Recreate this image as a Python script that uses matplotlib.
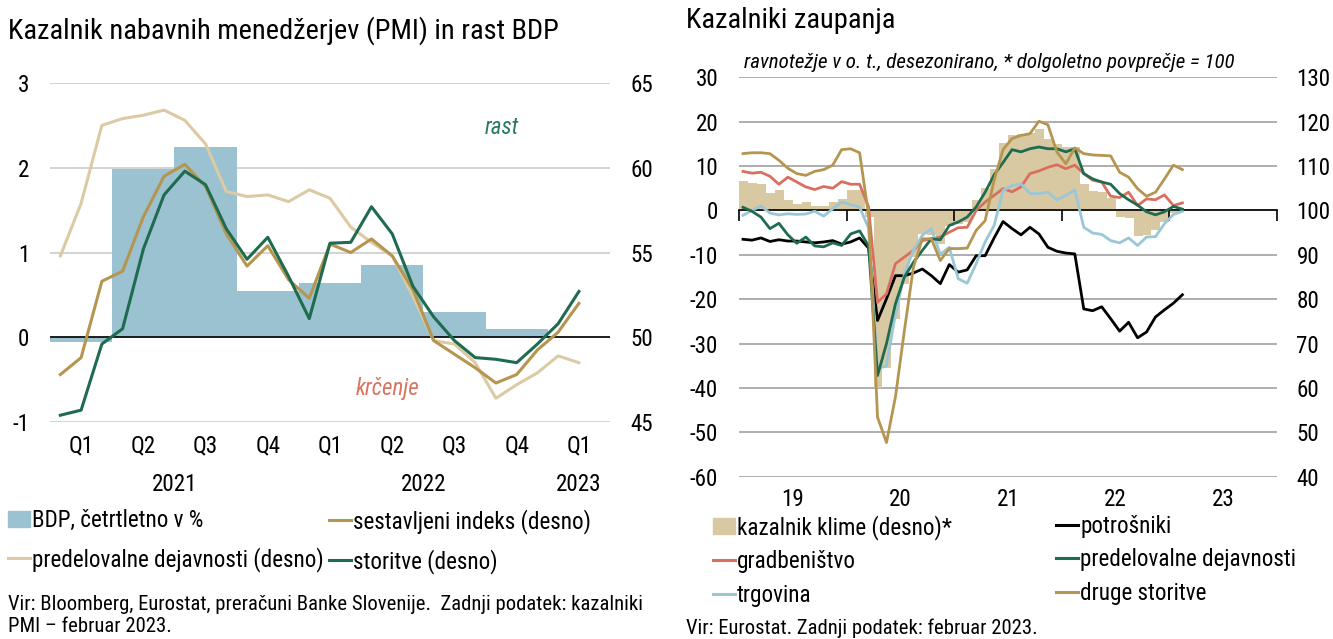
import os
import matplotlib
matplotlib.use("Agg")
import matplotlib.pyplot as plt
import matplotlib.patches as mpatches
from matplotlib.lines import Line2D
from matplotlib import font_manager
from matplotlib.font_manager import FontProperties
import numpy as np

plt.rcParams['axes.unicode_minus'] = False

# pick a narrow face (the original uses Arial Narrow); scale = size factor vs Arial Narrow
font_files = {os.path.basename(f): f for f in font_manager.findSystemFonts()}
choices = [
    ('LiberationSansNarrow-Regular.ttf', 'LiberationSansNarrow-Italic.ttf', 1.0),
    ('NotoSans-Condensed.ttf', 'NotoSans-CondensedItalic.ttf', 0.95),
    ('NotoSans-SemiCondensed.ttf', 'NotoSans-SemiCondensedItalic.ttf', 0.86),
    ('RobotoCondensed-Regular.ttf', 'RobotoCondensed-Italic.ttf', 0.95),
    ('LiberationSans-Regular.ttf', 'LiberationSans-Italic.ttf', 0.82),
]
reg_file, ital_file, SC = None, None, 0.74
for r, i, s in choices:
    if r in font_files:
        reg_file = font_files[r]
        ital_file = font_files.get(i, reg_file)
        SC = s
        break


def fp(size, italic=False):
    if reg_file is None:
        return FontProperties(family='DejaVu Sans', size=size * SC,
                              style='italic' if italic else 'normal')
    return FontProperties(fname=ital_file if italic else reg_file, size=size * SC)


# ---------- left chart: PMI and GDP (monthly Jan 2021 - Feb 2023) ----------
quarter_labels = ['Q1', 'Q2', 'Q3', 'Q4', 'Q1', 'Q2', 'Q3', 'Q4', 'Q1']
year_labels_left = ['2021', '2022', '2023']
year_pos_left = [6, 18, 25.5]
gdp_q = [-0.06, 1.98, 2.24, 0.54, 0.64, 0.85, 0.30, 0.10]
pmi_composite = [47.8, 48.8, 53.3, 53.9, 57.1, 59.5, 60.2, 58.9, 56.1, 54.2, 55.4, 53.4,
                 52.3, 55.5, 55.0, 55.8, 54.8, 52.8, 49.8, 49.0, 48.2, 47.3, 47.8, 49.25,
                 50.3, 52.0]
pmi_manuf = [54.8, 57.9, 62.5, 62.9, 63.1, 63.4, 62.8, 61.4, 58.6, 58.3, 58.4, 58.0,
             58.7, 58.2, 56.5, 55.6, 54.8, 52.4, 49.8, 49.6, 48.5, 46.4, 47.2, 47.9,
             48.9, 48.5]
pmi_services = [45.4, 45.7, 49.6, 50.5, 55.2, 58.4, 59.8, 59.0, 56.4, 54.6, 55.9, 53.6,
                51.1, 55.55, 55.6, 57.7, 56.1, 53.0, 51.2, 49.8, 48.8, 48.7, 48.5, 49.6,
                50.8, 52.7]

# ---------- right chart: confidence indicators (monthly Jan 2019 - Feb 2023) ----------
year_labels_right = ['19', '20', '21', '22', '23']
klima = [6.6, 6.2, 5.9, 3.9, 4.5, 2.3, 1.35, 2.0, 1.0, 1.0, 2.0, 2.6,
         4.7, 4.7, -1.5, -40.0, -35.5, -24.5, -16.5, -10.5, -5.3, -5.5, -7.5, -3.4,
         -3.0, -2.5, 2.4, 5.0, 9.3, 15.1, 17.1, 17.3, 17.4, 18.4, 16.2, 15.0,
         14.4, 14.3, 5.9, 4.4, 4.1, 2.8, -1.4, -1.6, -5.7, -5.6, -4.5, -2.7,
         -0.5, 0.4]
potrosniki = [-6.5, -6.7, -6.2, -7.0, -6.6, -6.9, -6.9, -7.1, -7.3, -7.1, -6.8, -7.6,
              -7.1, -6.2, -8.5, -24.8, -19.9, -14.7, -14.7, -14.1, -13.2, -14.7, -16.5, -12.2,
              -13.9, -13.4, -10.2, -10.2, -6.2, -2.5, -4.1, -5.5, -3.8, -5.3, -8.3, -9.2,
              -9.6, -9.8, -22.2, -22.6, -21.7, -24.4, -27.2, -25.2, -28.7, -27.4, -24.0, -22.4,
              -20.9, -19.0]
gradbenistvo = [8.8, 8.4, 8.6, 7.7, 5.9, 7.5, 6.4, 5.3, 4.7, 5.4, 5.0, 6.5,
                5.9, 5.9, 0.8, -20.7, -18.8, -12.0, -10.5, -9.0, -6.8, -6.4, -6.0, -4.9,
                -3.9, -3.8, 0.0, 1.9, 3.4, 4.9, 4.2, 5.3, 8.3, 8.9, 9.7, 10.3,
                9.4, 10.2, 8.3, 6.8, 6.4, 3.2, 2.9, 4.1, 1.1, 2.6, 2.4, 3.5,
                1.1, 1.7]
predelovalne = [0.7, -0.2, -1.5, -4.1, -2.9, -5.5, -7.4, -6.0, -8.0, -8.2, -7.3, -7.9,
                -5.3, -4.6, -8.0, -37.2, -30.0, -21.0, -15.0, -11.7, -9.0, -6.4, -6.6, -3.4,
                -2.6, -1.5, 0.8, 4.1, 8.0, 10.8, 13.7, 13.2, 13.9, 14.3, 13.9, 13.9,
                13.2, 13.9, 8.3, 7.1, 6.4, 5.9, 3.8, 2.4, 1.2, -0.3, -1.0, -0.3,
                0.9, 0.3]
trgovina = [-1.1, 0.0, 1.0, -0.6, -1.0, -0.75, -0.9, -0.8, -0.2, -1.3, 0.4, 1.9,
            1.3, 0.75, -4.0, -35.7, -35.0, -23.3, -14.3, -9.0, -5.6, -4.1, -9.9, -8.3,
            -15.4, -16.4, -12.0, -7.1, -3.4, 4.5, 5.6, 6.0, 3.8, 3.8, 4.1, 2.4,
            3.4, 4.6, -3.8, -5.1, -5.4, -6.8, -7.3, -6.2, -7.9, -6.0, -5.9, -3.0,
            -0.9, -0.2]
druge = [12.8, 13.0, 13.0, 12.8, 11.3, 9.5, 8.3, 7.9, 8.8, 9.2, 10.2, 13.7,
         13.9, 13.0, -1.0, -46.6, -52.3, -42.0, -27.0, -12.8, -6.4, -6.4, -11.3, -8.6,
         -8.6, -8.5, -4.5, -2.3, 6.8, 13.7, 16.2, 16.9, 17.3, 20.1, 19.3, 13.2,
         10.5, 14.1, 12.8, 12.5, 12.4, 12.3, 8.6, 7.5, 4.9, 3.2, 4.1, 7.1,
         10.2, 9.2]

c_gdp = '#9bc2d0'
c_comp = '#b5954f'
c_manuf = '#dccaa5'
c_serv = '#1f6b50'
c_klima = '#d9c9a3'
c_red = '#d9705f'
c_blue = '#9ac7d8'
grid_l = '#d0d0d0'
grid_r = '#a8a8a8'

TICK = 17.4
LEG = 17.5
TITLE = 21.5
SRC = 15.6

W, H = 1333, 639
fig = plt.figure(figsize=(W / 100, H / 100), dpi=100)


def fx(px):
    return px / W


def fy(py):
    return 1 - py / H


def set_tick_font(labels, size):
    for lab in labels:
        lab.set_fontproperties(fp(size))


# ================= left chart =================
ax = fig.add_axes([fx(50), fy(422), fx(560), (422 - 83) / H])
ax2 = ax.twinx()

xm = np.arange(len(pmi_composite)) + 0.5
xq = np.arange(len(gdp_q)) * 3
ax.bar(xq, gdp_q, width=3, align='edge', color=c_gdp, zorder=2)
ax.axhline(0, color='black', lw=1.2, zorder=3)
ax.set_xlim(0, 27)
ax.set_ylim(-1, 3)
ax.set_yticks([-1, 0, 1, 2, 3])
ax.yaxis.grid(True, color=grid_l, lw=1.3)
ax.set_axisbelow(True)
ax.set_xticks(np.arange(len(quarter_labels)) * 3 + 1.5)
ax.set_xticklabels(quarter_labels)
ax.tick_params(axis='x', length=0, pad=9)
ax.tick_params(axis='y', length=0, pad=15)
for s in ax.spines.values():
    s.set_visible(False)
set_tick_font(ax.get_xticklabels(), TICK)
set_tick_font(ax.get_yticklabels(), TICK)
for lab, xp in zip(year_labels_left, year_pos_left):
    ax.text(xp, -0.183, lab, transform=ax.get_xaxis_transform(), ha='center',
            va='center', fontproperties=fp(TICK))

ax2.plot(xm, pmi_manuf, color=c_manuf, lw=2.2, zorder=3)
ax2.plot(xm, pmi_composite, color=c_comp, lw=2.2, zorder=4)
ax2.plot(xm, pmi_services, color=c_serv, lw=2.2, zorder=5)
ax2.set_ylim(45, 65)
ax2.set_yticks([45, 50, 55, 60, 65])
ax2.tick_params(axis='y', length=0, pad=15)
for s in ax2.spines.values():
    s.set_visible(False)
set_tick_font(ax2.get_yticklabels(), TICK)

ax.text(0.807, 0.870, 'rast', transform=ax.transAxes, color='#2a7a5d',
        ha='center', va='center', zorder=6, fontproperties=fp(TICK, True))
ax.text(0.602, 0.100, 'krčenje', transform=ax.transAxes, color='#d9735f',
        ha='center', va='center', zorder=6, fontproperties=fp(TICK, True))

fig.text(fx(8), fy(31), 'Kazalnik nabavnih menedžerjev (PMI) in rast BDP',
         va='center', ha='left', fontproperties=fp(TITLE))

leg_kw = dict(frameon=False, prop=fp(LEG), handlelength=0.95, handletextpad=0.1,
              borderpad=0, borderaxespad=0, labelspacing=0.65, handleheight=0.7)
fig.legend([mpatches.Patch(color=c_gdp), Line2D([], [], color=c_manuf, lw=2.2)],
           ['BDP, četrtletno v %', 'predelovalne dejavnosti (desno)'],
           loc='upper left', bbox_to_anchor=(fx(8), fy(509)), **leg_kw)
fig.legend([Line2D([], [], color=c_comp, lw=2.2), Line2D([], [], color=c_serv, lw=2.2)],
           ['sestavljeni indeks (desno)', 'storitve (desno)'],
           loc='upper left', bbox_to_anchor=(fx(329), fy(509)), **leg_kw)

fig.text(fx(8), fy(604), 'Vir: Bloomberg, Eurostat, preračuni Banke Slovenije.  Zadnji podatek: kazalniki',
         va='center', ha='left', fontproperties=fp(SRC))
fig.text(fx(8), fy(627), 'PMI – februar 2023.', va='center', ha='left',
         fontproperties=fp(SRC))

# ================= right chart =================
axl = fig.add_axes([fx(739), fy(476.7), fx(538), 399.4 / H])
axr = axl.twinx()
axr.set_zorder(0)
axl.set_zorder(1)
axl.patch.set_visible(False)

xr = np.arange(len(klima)) + 0.45
xb = np.arange(len(klima))
axr.bar(xb, klima, bottom=100, width=1.0, align='edge', color=c_klima, lw=0, zorder=2)
axr.set_ylim(40, 130)
axr.set_yticks(np.arange(40, 131, 10))
axr.yaxis.grid(True, color=grid_r, lw=1.3)
axr.set_axisbelow(True)
axr.tick_params(axis='y', length=0, pad=14)
for s in axr.spines.values():
    s.set_visible(False)
set_tick_font(axr.get_yticklabels(), TICK)

axl.plot(xr, potrosniki, color='black', lw=2.0, zorder=3)
axl.plot(xr, gradbenistvo, color=c_red, lw=2.0, zorder=3)
axl.plot(xr, trgovina, color=c_blue, lw=2.0, zorder=3)
axl.plot(xr, predelovalne, color=c_serv, lw=2.0, zorder=4)
axl.plot(xr, druge, color=c_comp, lw=2.0, zorder=5)
axl.set_xlim(0, 60)
axl.set_ylim(-60, 30)
axl.set_yticks(np.arange(-60, 31, 10))
axl.yaxis.tick_left()
axl.tick_params(axis='y', length=0, pad=15)
for k in ['left', 'right', 'bottom']:
    axl.spines[k].set_visible(False)
axl.spines['top'].set_position(('data', 0))
axl.spines['top'].set_color('black')
axl.spines['top'].set_linewidth(1.2)
axl.set_xticks(np.arange(0, 61, 12))
axl.set_xticks(np.arange(6, 61, 12), year_labels_right, minor=True)
axl.tick_params(axis='x', which='major', top=True, bottom=False, labeltop=False,
                labelbottom=False, direction='in', length=8, width=1.2)
axl.tick_params(axis='x', which='minor', top=False, bottom=True, length=0,
                labelbottom=True, pad=8)
set_tick_font(axl.get_yticklabels(), TICK)
set_tick_font(axl.get_xticklabels(minor=True), TICK)

fig.text(fx(686), fy(20), 'Kazalniki zaupanja', va='center', ha='left',
         fontproperties=fp(TITLE))
fig.text(fx(744), fy(62), 'ravnotežje v o. t., desezonirano, * dolgoletno povprečje = 100',
         va='center', ha='left', fontproperties=fp(15.9, True))

leg_kw2 = dict(frameon=False, prop=fp(LEG), handlelength=0.95, handletextpad=0.1,
               borderpad=0, borderaxespad=0, labelspacing=0.45, handleheight=0.7)
fig.legend([mpatches.Patch(color=c_klima), Line2D([], [], color=c_red, lw=2.2),
            Line2D([], [], color=c_blue, lw=2.2)],
           ['kazalnik klime (desno)*', 'gradbeništvo', 'trgovina'],
           loc='upper left', bbox_to_anchor=(fx(713), fy(515)), **leg_kw2)
fig.legend([Line2D([], [], color='black', lw=2.2), Line2D([], [], color=c_serv, lw=2.2),
            Line2D([], [], color=c_comp, lw=2.2)],
           ['potrošniki', 'predelovalne dejavnosti', 'druge storitve'],
           loc='upper left', bbox_to_anchor=(fx(1056), fy(515)), **leg_kw2)

fig.text(fx(686), fy(628), 'Vir: Eurostat. Zadnji podatek: februar 2023.',
         va='center', ha='left', fontproperties=fp(SRC))

fig.savefig('out.png', dpi=100)
